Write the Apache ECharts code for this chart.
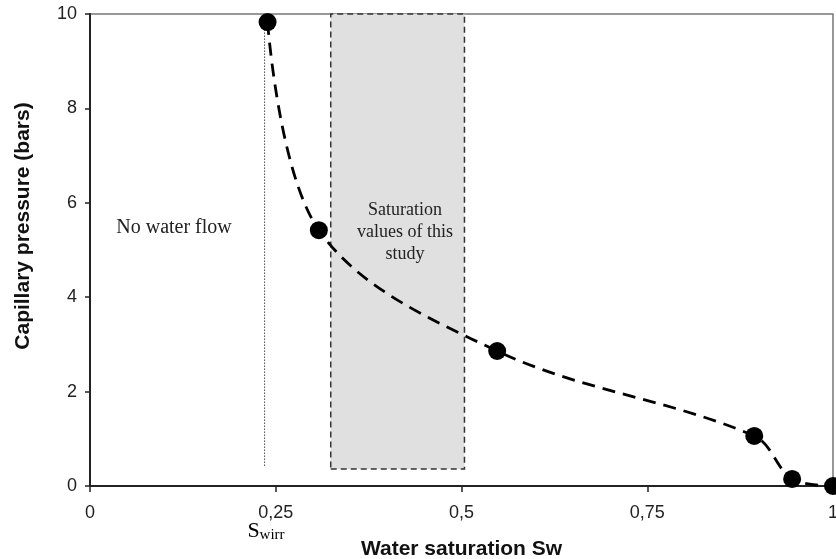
<!DOCTYPE html>
<html>
<head>
<meta charset="utf-8">
<script src="https://cdn.jsdelivr.net/npm/echarts@6/dist/echarts.min.js"></script>
<style>
  html, body { margin: 0; padding: 0; background: #fff; }
  #chart { width: 836px; height: 559px; }
</style>
</head>
<body>
<div id="chart"></div>
<script>
// measured points (water saturation, capillary pressure)
const swValues = [0.239, 0.308, 0.548, 0.894, 0.945, 1.0];
const pcValues = [9.83, 5.42, 2.86, 1.06, 0.15, 0.0];

// irreducible water saturation marker line
const swirrX = [0.235, 0.235];
const swirrY = [9.8, 0.4];

// range of saturations used in the study (shaded box)
const studyRangeX = [0.324, 0.504];
const studyRangeY = [0.36, 10];

const xTicks = [0, 0.25, 0.5, 0.75, 1];

const chart = echarts.init(document.getElementById("chart"));

const fontSans = "Arial, 'Liberation Sans', sans-serif";
const fontSerif = "'Times New Roman', 'Liberation Serif', serif";

const option = {
  animation: false,
  backgroundColor: "#fff",
  grid: {
    left: 90,
    right: 3,
    top: 14,
    bottom: 73,
    outerBoundsMode: "none",
    containLabel: false,
    show: true,
    borderColor: "#777",
    borderWidth: 1.5,
  },
  xAxis: {
    type: "value",
    min: 0,
    max: 1,
    interval: 0.25,
    name: "Water saturation Sw",
    nameLocation: "middle",
    nameGap: 53,
    nameTextStyle: {
      fontFamily: fontSans,
      fontWeight: "bold",
      fontSize: 21,
      color: "#111",
    },
    axisLine: { lineStyle: { color: "#222", width: 2 } },
    axisTick: { show: true, length: 6, lineStyle: { color: "#222", width: 1.5 } },
    axisLabel: {
      color: "#222",
      fontFamily: fontSans,
      fontSize: 18,
      margin: 18,
      formatter: (v) => (xTicks.includes(v) ? String(v).replace(".", ",") : ""),
    },
    splitLine: { show: false },
  },
  yAxis: {
    type: "value",
    min: 0,
    max: 10,
    interval: 2,
    axisLine: { show: true, lineStyle: { color: "#222", width: 2 } },
    axisTick: { show: true, length: 5, lineStyle: { color: "#222", width: 1.5 } },
    axisLabel: {
      color: "#222",
      fontFamily: fontSans,
      fontSize: 18,
      margin: 13,
    },
    splitLine: { show: false },
  },
  graphic: [
    {
      type: "text",
      x: 23,
      y: 226,
      rotation: Math.PI / 2,
      style: {
        text: "Capillary pressure (bars)",
        font: "bold 21px " + fontSans,
        fill: "#111",
        align: "center",
        verticalAlign: "middle",
      },
    },
    {
      type: "text",
      x: 174,
      y: 228,
      z: 10,
      style: {
        text: "No water flow",
        font: "20px " + fontSerif,
        fill: "#222",
        align: "center",
        verticalAlign: "middle",
      },
    },
    {
      type: "text",
      x: 405,
      y: 232,
      z: 10,
      style: {
        text: "Saturation\nvalues of this\nstudy",
        font: "18px " + fontSerif,
        lineHeight: 22,
        fill: "#222",
        align: "center",
        verticalAlign: "middle",
      },
    },
    {
      type: "text",
      x: 266,
      y: 531,
      z: 10,
      style: {
        text: "{s|S}{sub|wirr}",
        align: "center",
        verticalAlign: "middle",
        rich: {
          s: { fontFamily: fontSerif, fontSize: 22, color: "#222" },
          sub: {
            fontFamily: fontSerif,
            fontSize: 15,
            color: "#222",
            padding: [9, 0, 0, 0],
          },
        },
      },
    },
  ],
  series: [
    {
      name: "study range",
      type: "line",
      data: [],
      markArea: {
        silent: true,
        itemStyle: {
          color: "#e0e0e0",
          borderColor: "#333",
          borderWidth: 1.5,
          borderType: [6, 4],
        },
        data: [
          [
            { coord: [studyRangeX[0], studyRangeY[0]] },
            { coord: [studyRangeX[1], studyRangeY[1]] },
          ],
        ],
      },
    },
    {
      name: "Swirr",
      type: "line",
      data: swirrX.map((x, i) => [x, swirrY[i]]),
      symbol: "none",
      lineStyle: { color: "#444", width: 1, type: [1.5, 1.5] },
      z: 3,
    },
    {
      name: "Pc",
      type: "line",
      data: swValues.map((x, i) => [x, pcValues[i]]),
      smooth: 0.35,
      clip: false,
      symbol: "circle",
      symbolSize: 18,
      itemStyle: { color: "#000" },
      lineStyle: { color: "#000", width: 2.8, type: [13, 8] },
      z: 5,
    },
  ],
};

chart.setOption(option);
</script>
</body>
</html>
